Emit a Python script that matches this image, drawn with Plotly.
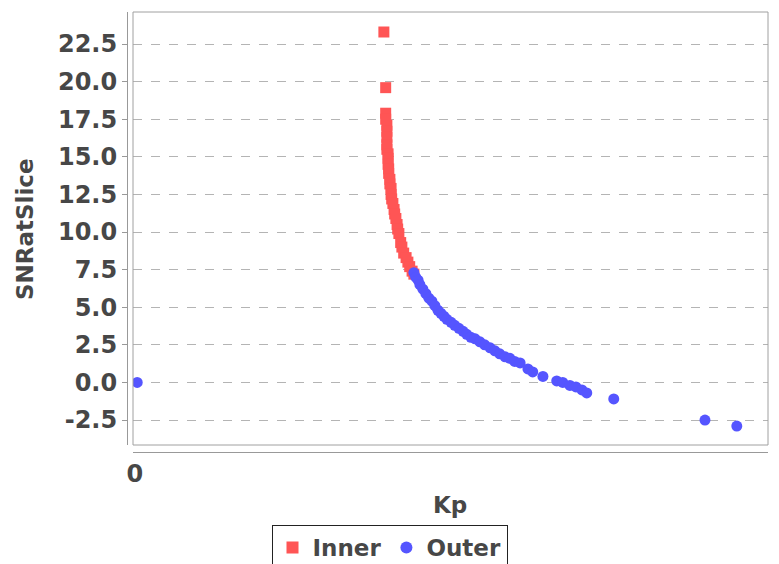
import plotly.graph_objects as go

# Data
inner_kp = [0.415, 0.418, 0.418, 0.418, 0.420, 0.420, 0.420, 0.420, 0.420, 0.422,
            0.422, 0.422, 0.423, 0.423, 0.425, 0.425, 0.427, 0.427, 0.428, 0.430,
            0.432, 0.433, 0.435, 0.437, 0.438, 0.440, 0.443, 0.445, 0.448, 0.452,
            0.455, 0.458, 0.462, 0.465]
inner_snr = [23.3, 19.6, 17.9, 17.5, 17.1, 16.7, 16.3, 15.8, 15.5, 15.2,
             14.9, 14.5, 14.2, 13.9, 13.5, 13.2, 12.9, 12.5, 12.2, 11.9,
             11.5, 11.2, 10.9, 10.5, 10.2, 9.9, 9.3, 9.0, 8.6, 8.3,
             8.0, 7.7, 7.4, 7.2]

outer_kp = [0.004, 0.465, 0.468, 0.472, 0.475, 0.480, 0.485, 0.490, 0.495, 0.500,
            0.505, 0.510, 0.515, 0.520, 0.527, 0.533, 0.540, 0.547, 0.553, 0.560,
            0.567, 0.575, 0.583, 0.592, 0.600, 0.608, 0.617, 0.625, 0.633, 0.642,
            0.655, 0.663, 0.680, 0.703, 0.713, 0.725, 0.735, 0.745, 0.753, 0.798,
            0.950, 1.003]
outer_snr = [0.0, 7.3, 7.0, 6.8, 6.5, 6.2, 5.9, 5.6, 5.4, 5.1,
             4.8, 4.6, 4.4, 4.2, 4.0, 3.8, 3.6, 3.4, 3.2, 3.0,
             2.9, 2.7, 2.5, 2.3, 2.1, 1.9, 1.7, 1.6, 1.4, 1.3,
             0.9, 0.7, 0.4, 0.1, 0.0, -0.2, -0.3, -0.5, -0.7, -1.1,
             -2.5, -2.9]

y_ticks = [-2.5, 0.0, 2.5, 5.0, 7.5, 10.0, 12.5, 15.0, 17.5, 20.0, 22.5]
y_tick_text = ["-2.5", "0.0", "2.5", "5.0", "7.5", "10.0", "12.5", "15.0", "17.5", "20.0", "22.5"]
x_ticks = [0]
x_tick_text = ["0"]

font_family = "DejaVu Sans"
text_color = "#474747"
bold = "bold"

fig = go.Figure()
fig.add_trace(go.Scatter(
    x=inner_kp, y=inner_snr, mode="markers", name="Inner",
    marker=dict(symbol="square", size=11, color="#FF5555", line=dict(width=0)),
))
fig.add_trace(go.Scatter(
    x=outer_kp, y=outer_snr, mode="markers", name="Outer",
    marker=dict(symbol="circle", size=11, color="#5555FF", line=dict(width=0)),
))

# page body has an 8px margin: the figure is drawn 8px right/down
OFF = 8
W, H = 779 - OFF, 564 - OFF
ml, mr, mt, mb = 127 - OFF, 11, 12 - OFF, 112
pw = W - ml - mr
ph = H - mt - mb
x_dom0 = 6 / pw
y_dom0 = 7 / ph


def px_x(sx):
    return (sx - OFF - ml) / pw


def px_y(sy):
    return (ph - (sy - OFF - mt)) / ph


fig.update_layout(
    width=W, height=H,
    margin=dict(l=ml, r=mr, t=mt, b=mb, autoexpand=False),
    paper_bgcolor="white", plot_bgcolor="white",
    font=dict(family=font_family, color=text_color, size=18),
    showlegend=True,
    legend=dict(
        orientation="h",
        xref="container", yref="container",
        x=(389.5 - OFF) / W, xanchor="center",
        y=(H - (525 - OFF)) / H, yanchor="top",
        bordercolor="#222222", borderwidth=1, bgcolor="white",
        font=dict(size=23, family=font_family, color=text_color, weight=bold),
        itemsizing="constant",
    ),
    xaxis=dict(
        domain=[x_dom0, 1], range=[-0.003, 1.055],
        anchor="free", position=0, automargin=False,
        tickvals=x_ticks, ticktext=x_tick_text,
        showgrid=False, zeroline=False,
        showline=True, linecolor="#999999", linewidth=1,
        ticks="",
        tickfont=dict(size=24, family=font_family, color=text_color, weight=bold),
    ),
    yaxis=dict(
        domain=[y_dom0, 1], range=[-4.16, 24.63],
        anchor="free", position=0, automargin=False,
        tickvals=y_ticks, ticktext=y_tick_text,
        showgrid=True, gridcolor="#b4b4b4", griddash="dash", gridwidth=1,
        zeroline=False,
        showline=True, linecolor="#999999", linewidth=1,
        ticks="outside", ticklen=5, tickcolor="#999999",
        tickfont=dict(size=24, family=font_family, color=text_color, weight=bold),
    ),
    shapes=[dict(
        type="rect", xref="x domain", yref="y domain",
        x0=0, x1=1, y0=0, y1=1,
        line=dict(color="#a0a0a0", width=1), fillcolor="rgba(0,0,0,0)",
        layer="above",
    )],
    annotations=[
        dict(text="SNRatSlice", xref="paper", yref="paper",
             x=px_x(25), y=px_y(229),
             xanchor="center", yanchor="middle", textangle=-90, showarrow=False,
             font=dict(size=23, family=font_family, color=text_color, weight=bold)),
        dict(text="Kp", xref="paper", yref="paper",
             x=px_x(450), y=px_y(505),
             xanchor="center", yanchor="middle", showarrow=False,
             font=dict(size=23, family=font_family, color=text_color, weight=bold)),
    ],
)

fig.write_html("out.html")
